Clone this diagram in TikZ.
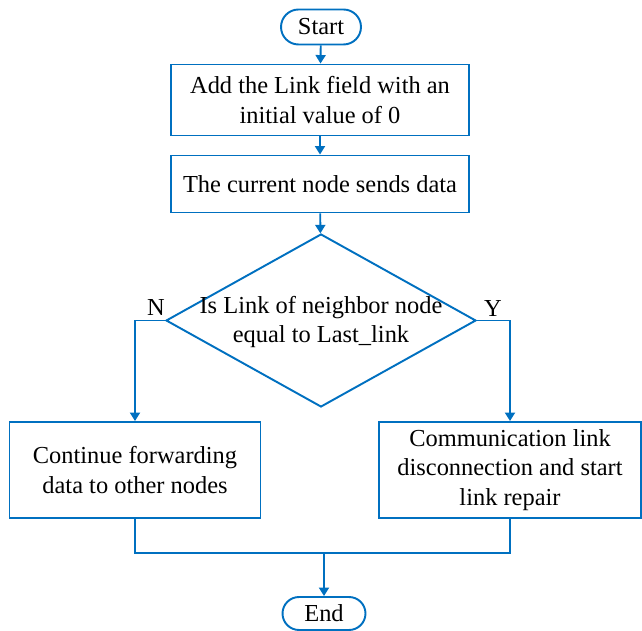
\documentclass[tikz,border=0pt]{standalone}
\usepackage{fontspec}
\setmainfont{Liberation Serif}
\usetikzlibrary{arrows.meta,shapes.geometric,shapes.misc}
\definecolor{flowblue}{RGB}{0,112,192}
\tikzset{
  flowline/.style={draw=flowblue, line width=1.1pt},
  flowarrow/.style={flowline, -{Triangle[width=0.2cm,length=0.17cm]}},
  terminal/.style={rounded rectangle, flowline, inner sep=0pt, minimum height=0.7cm},
  procbox/.style={rectangle, flowline, align=center, inner sep=0pt},
  txt/.style={font=\fontsize{13.9}{16.8}\selectfont}
}
\begin{document}
\begin{tikzpicture}[x=0.02cm, y=-0.02cm, every node/.style={txt}]
\useasboundingbox (0,0) rectangle (642,631);
% start and the two setup steps
\node[terminal, minimum width=1.6cm] (start) at (321,27) {Start};
\node[procbox, minimum width=5.96cm, minimum height=1.42cm] (addlink) at (320,100) {Add the Link field with an\\initial value of 0};
\node[procbox, minimum width=5.96cm, minimum height=1.14cm] (senddata) at (320,184) {The current node sends data};
% decision
\node[diamond, flowline, inner sep=0pt, minimum width=6.2cm, minimum height=3.46cm] (check) at (321,320.5) {};
\node[align=center] (checktxt) at (321,322) {Is Link of neighbor node\\equal to Last\_link};
\node (lblN) at (156,308) {N};
\node (lblY) at (493,309) {Y};
% outcomes
\node[procbox, minimum width=5.02cm, minimum height=1.92cm] (forward) at (135,470) {Continue forwarding\\data to other nodes};
\node[procbox, minimum width=5.24cm, minimum height=1.92cm] (repair) at (510,470) {Communication link\\disconnection and start\\link repair};
\coordinate (join) at (324,553);
\node[terminal, minimum width=1.66cm, minimum height=0.66cm] (finish) at (324,613.5) {End};
% connectors
\draw[flowarrow] (start) -- (addlink);
\draw[flowarrow] (addlink) -- (senddata);
\draw[flowarrow] (senddata) -- (check);
\draw[flowarrow] (check.west) -| (forward.north);
\draw[flowarrow] (check.east) -| (repair.north);
\draw[flowline] (forward.south) |- (join) -| (repair.south);
\draw[flowarrow] (join) -- (finish);
\end{tikzpicture}
\end{document}
